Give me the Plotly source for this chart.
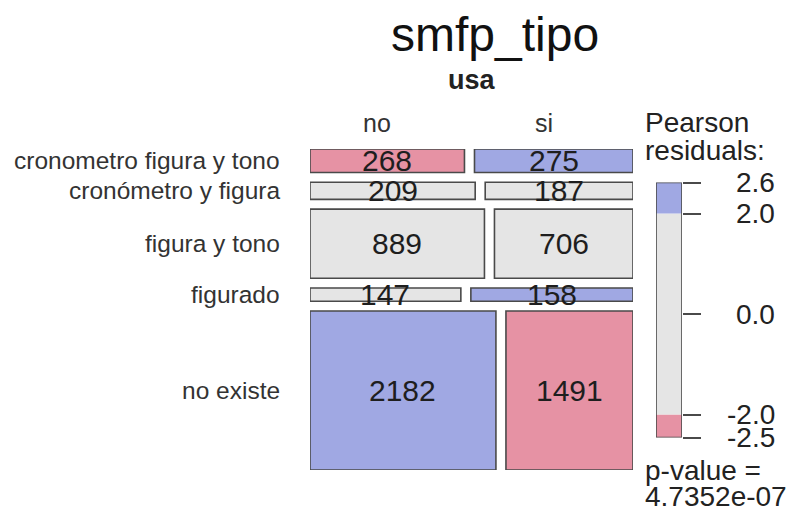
import numpy as np
import plotly.graph_objects as go

# counts: rows = smfp_tipo, columns = usa
row_labels = ["cronometro figura y tono", "cronómetro y figura", "figura y tono",
              "figurado", "no existe"]
col_labels = ["no", "si"]
count_no = [268, 209, 889, 147, 2182]
count_si = [275, 187, 706, 158, 1491]
p_value_text = "4.7352e-07"

BLUE = "#A0A8E3"
PINK = "#E692A4"
GREY = "#E5E5E5"
EDGE = "#4A4A4A"
FONT = "Liberation Sans, Arial, Helvetica, sans-serif"

W, H = 795, 513


def px(x):
    return x / W


def py(y):
    return 1 - y / H


tab = np.array([count_no, count_si]).T
n = tab.sum()
row_tot = tab.sum(axis=1)
col_tot = tab.sum(axis=0)
expected = np.outer(row_tot, col_tot) / n
resid = (tab - expected) / np.sqrt(expected)


def shade(r):
    if r > 2:
        return BLUE
    if r < -2:
        return PINK
    return GREY


# gaps between tiles, in units of the total proportion
gx = 0.032
gy = 0.0346

fig = go.Figure()
shapes = []
annotations = []

row_top = np.concatenate([[0], np.cumsum(row_tot)[:-1]]) / n + np.arange(len(row_tot)) * gy
row_h = row_tot / n
col_centers_first = []
for i in range(tab.shape[0]):
    x0 = 0.0
    for j in range(tab.shape[1]):
        w = tab[i, j] / row_tot[i]
        shapes.append(dict(type="rect", xref="x", yref="y",
                           x0=x0, x1=x0 + w, y0=row_top[i], y1=row_top[i] + row_h[i],
                           fillcolor=shade(resid[i, j]),
                           line=dict(color=EDGE, width=1.6), layer="below"))
        annotations.append(dict(xref="x", yref="y", x=x0 + w / 2,
                                y=row_top[i] + row_h[i] / 2, text=str(tab[i, j]),
                                showarrow=False, yanchor="middle",
                                font=dict(size=30, color="#1E1E1E")))
        if i == 0:
            col_centers_first.append(x0 + w / 2)
        x0 += w + gx
    annotations.append(dict(xref="paper", yref="y", x=px(282), xanchor="right",
                            y=row_top[i] + row_h[i] / 2, yanchor="middle",
                            text=row_labels[i], showarrow=False,
                            font=dict(size=24.5, color="#333333")))

for j, lab in enumerate(col_labels):
    annotations.append(dict(xref="x", yref="paper", x=col_centers_first[j], xshift=-10,
                            y=py(123), yanchor="middle", text=lab, showarrow=False,
                            font=dict(size=25, color="#333333")))

annotations.append(dict(xref="x", yref="paper", x=(1 + gx) / 2, y=py(80),
                        yanchor="middle", text="<b>usa</b>", showarrow=False,
                        font=dict(size=27, color="#222222")))
annotations.append(dict(xref="paper", yref="paper", x=px(495), y=py(34),
                        yanchor="middle", text="smfp_tipo", showarrow=False,
                        font=dict(size=48, color="#111111")))

# legend bar for residuals
r_min, r_max = resid.min(), resid.max()
segments = [(r_min, -2, PINK), (-2, 2, GREY), (2, r_max, BLUE)]
for lo, hi, col in segments:
    shapes.append(dict(type="rect", xref="x2", yref="y2", x0=0, x1=1, y0=lo, y1=hi,
                       fillcolor=col, line=dict(width=0), layer="below"))
shapes.append(dict(type="rect", xref="x2", yref="y2", x0=0, x1=1, y0=r_min, y1=r_max,
                   fillcolor="rgba(0,0,0,0)", line=dict(color=EDGE, width=1.6)))

tick_vals = [r_max, 2, 0, -2, r_min]
for v in tick_vals:
    annotations.append(dict(xref="paper", yref="y2", x=px(777), xanchor="right", y=v,
                            yanchor="middle", text="%.1f" % v, showarrow=False,
                            font=dict(size=28, color="#222222")))

for txt, ypx in [("Pearson", 122), ("residuals:", 150), ("p-value =", 470),
                 (p_value_text, 496)]:
    annotations.append(dict(xref="paper", yref="paper", x=px(643), xanchor="left",
                            y=py(ypx), yanchor="middle", text=txt, showarrow=False,
                            font=dict(size=28, color="#222222")))

fig.update_layout(
    width=W, height=H,
    margin=dict(l=0, r=0, t=0, b=0),
    paper_bgcolor="white", plot_bgcolor="white",
    showlegend=False,
    font=dict(family=FONT),
    xaxis=dict(domain=[px(310), px(633)], range=[0, 1 + gx], visible=False),
    yaxis=dict(domain=[py(470), py(149)], range=[1 + 4 * gy, 0], visible=False),
    xaxis2=dict(domain=[px(656), px(682)], range=[0, 1], anchor="y2", visible=False),
    yaxis2=dict(domain=[py(437.5), py(182.5)], range=[r_min, r_max], anchor="x2",
                side="right", showgrid=False, zeroline=False, showline=False,
                ticks="outside", ticklen=18, tickwidth=1.5, tickcolor=EDGE,
                tickvals=tick_vals, showticklabels=False),
    shapes=shapes,
    annotations=annotations,
)

# drop the default page margin so the figure fills the window exactly
fig.write_html("out.html",
               config={"displayModeBar": False},
               post_script="document.body.style.margin='0';"
                           "document.body.style.overflow='hidden';")
